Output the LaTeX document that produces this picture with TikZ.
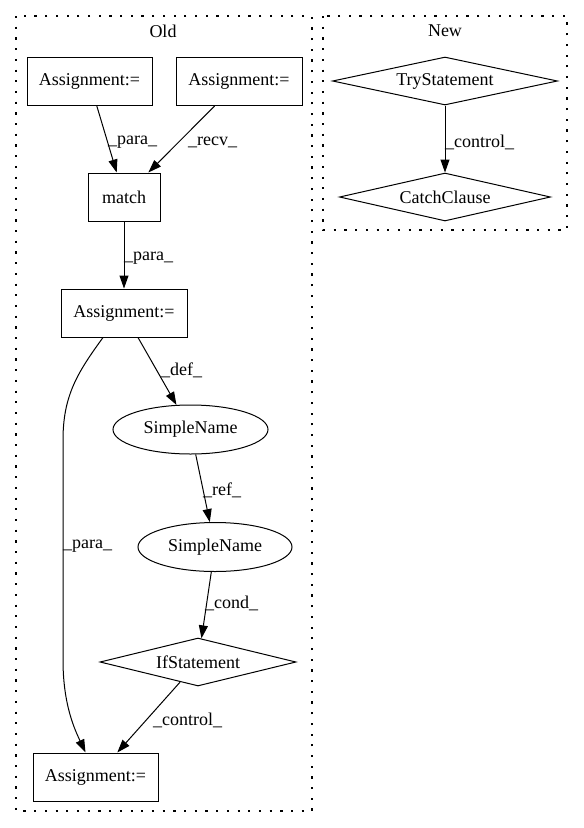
\documentclass[tikz,border=0pt]{standalone}
\usepackage{fontspec}
\setmainfont{Liberation Serif}
\usetikzlibrary{shapes.geometric,arrows.meta}
\begin{document}
\begin{tikzpicture}[x=1pt,y=-1pt,
  every node/.style={font=\fontsize{18}{20}\selectfont},
  box/.style={draw,line width=1pt,rectangle,inner sep=0pt,minimum height=48pt},
  ell/.style={draw,line width=1pt,ellipse,inner sep=0pt,minimum height=49pt},
  dia/.style={draw,line width=1pt,diamond,inner sep=0pt,minimum height=48pt,aspect=4},
  edge/.style={line width=1pt,-{Triangle[length=13pt,width=9pt]}},
  lab/.style={anchor=west,inner sep=0pt},
  cluster/.style={line width=1.2pt,dash pattern=on 2.2pt off 8.5pt}]
\useasboundingbox (0,0) rectangle (584,828);
% clusters
\draw[cluster] (16,16) rectangle (312,811);
\draw[cluster] (323,16) rectangle (567,230);
\node (oldlab) at (163,31) {Old};
\node (newlab) at (445,31) {New};
% Old nodes
\node[box,minimum width=125pt] (a1) at (89.5,81.5) {Assignment:=};
\node[box,minimum width=126pt] (a2) at (239,81.5) {Assignment:=};
\node[box,minimum width=72pt] (match) at (124,197) {match};
\node[box,minimum width=126pt] (a3) at (124,313) {Assignment:=};
\node[ell,minimum width=155pt] (s1) at (190.5,429.5) {SimpleName};
\node[ell,minimum width=154pt] (s2) at (215,547) {SimpleName};
\node[dia,minimum width=196pt] (if) at (198,662) {IfStatement};
\node[box,minimum width=125pt] (a4) at (95.5,777) {Assignment:=};
% New nodes
\node[dia,minimum width=225pt] (try) at (445,81) {TryStatement};
\node[dia,minimum width=211pt] (catch) at (445,197) {CatchClause};
% edges
\draw[edge] (a1) -- (match);
\node[lab] (l1) at (108,142) {\_para\_};
\draw[edge] (a2) -- (match);
\node[lab] (l2) at (188,142) {\_recv\_};
\draw[edge] (match) -- (a3);
\node[lab] (l3) at (124,258) {\_para\_};
\draw[edge] (a3) -- (s1);
\node[lab] (l4) at (161,370) {\_def\_};
\draw[edge] (s1) -- (s2);
\node[lab] (l5) at (203,490) {\_ref\_};
\draw[edge] (s2) -- (if);
\node[lab] (l6) at (205,603) {\_cond\_};
\draw[edge] (if) -- (a4);
\node[lab] (l7) at (153,720) {\_control\_};
\draw[edge] ([xshift=-21pt]a3.south) .. controls (78,372) and (63,395) .. (63,440)
  -- (63,660) .. controls (63,705) and (75,730) .. ([xshift=-10pt]a4.north);
\node[lab] (l8) at (63,546) {\_para\_};
\draw[edge] (try) -- (catch);
\node[lab] (l9) at (445,142) {\_control\_};
\end{tikzpicture}
\end{document}
